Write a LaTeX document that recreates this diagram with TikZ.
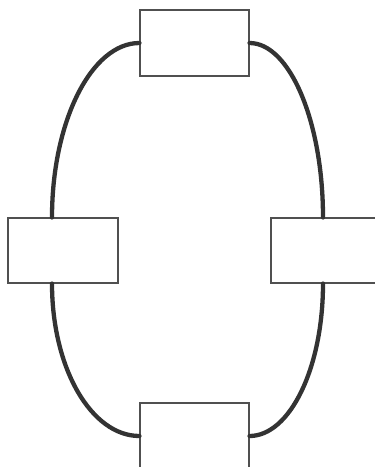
\documentclass[tikz,border=0pt]{standalone}
\usetikzlibrary{positioning}
\definecolor{boxline}{HTML}{505050}
\definecolor{wire}{HTML}{333333}
\begin{document}
\begin{tikzpicture}[x=1pt, y=-1pt,
  block/.style={draw=boxline, line width=1.1pt, minimum width=109pt, minimum height=66pt, inner sep=0pt},
  link/.style={draw=wire, line width=4.3pt, line cap=round}]
\useasboundingbox (0,0) rectangle (375,467);
\clip (0,0) rectangle (375,467);
\node[block] (T) at (194.5,43) {};
\node[block, minimum width=110pt, minimum height=65pt] (L) at (63,250.5) {};
\node[block, minimum width=110pt, minimum height=65pt] (R) at (326,250.5) {};
\node[block] (B) at (194.5,436) {};
\coordinate (Ltop) at ([xshift=-11pt]L.north);
\coordinate (Lbot) at ([xshift=-11pt]L.south);
\coordinate (Rtop) at ([xshift=-3pt]R.north);
\coordinate (Rbot) at ([xshift=-3pt]R.south);
\draw[link] (T.west) .. controls +(-48,0) and +(0,-96) .. (Ltop);
\draw[link] (T.east) .. controls +(40,0) and +(0,-96) .. (Rtop);
\draw[link] (Lbot) .. controls +(0,85) and +(-48,0) .. (B.west);
\draw[link] (Rbot) .. controls +(0,85) and +(40,0) .. (B.east);
\end{tikzpicture}
\end{document}
